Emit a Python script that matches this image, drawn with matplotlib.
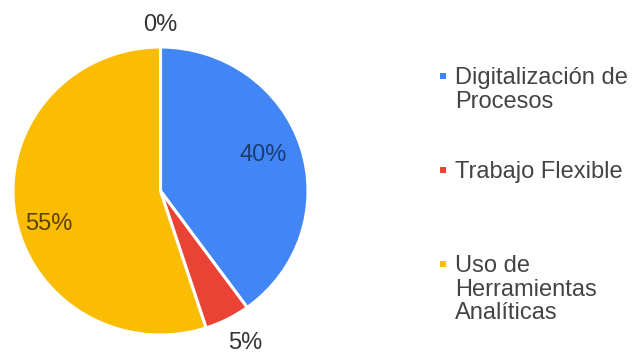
import numpy as np
import matplotlib
matplotlib.use("Agg")
import matplotlib.pyplot as plt
from matplotlib.patches import Rectangle

# Data
categories = ["Digitalización de\nProcesos", "Trabajo Flexible",
              "Uso de\nHerramientas\nAnalíticas", "Otros"]
values = [40, 5, 55, 0]
colors = ["#4285f4", "#ea4335", "#fbbc04", "#34a853"]

W, H = 632, 358
plt.rcParams["font.family"] = ["Liberation Sans", "DejaVu Sans"]
fig = plt.figure(figsize=(W / 100, H / 100), dpi=100)
fig.patch.set_facecolor("white")


def fx(px):
    return px / W


def fy(py):
    return 1 - py / H


# Pie area (pixels): left 13, right 308, top 47, bottom 335
ax = fig.add_axes([fx(13), fy(335), fx(308) - fx(13), (335 - 47) / H])
wedges, _ = ax.pie(values, colors=colors, startangle=90, counterclock=False,
                   radius=1.0,
                   wedgeprops=dict(edgecolor="white", linewidth=2.2))
ax.set_aspect("auto")
ax.set_xlim(-1, 1)
ax.set_ylim(-1, 1)
ax.axis("off")

# Percentage labels
total = sum(values)
label_style = {
    # radius, angular nudge (deg), colour
    0: (0.74, -1.5, "#1d3c73"),
    1: (1.20, -1.5, "#333333"),
    2: (0.79, -8.0, "#5a4300"),
    3: (1.15, 0.0, "#333333"),
}
cum = 0.0
for i, v in enumerate(values):
    frac = v / total
    mid = (cum + frac / 2) * 360.0  # clockwise from top
    cum += frac
    r, nudge, col = label_style[i]
    a = np.deg2rad(mid + nudge)
    ax.text(r * np.sin(a), r * np.cos(a), f"{round(frac * 100)}%",
            ha="center", va="center", fontsize=17, color=col,
            clip_on=False)

# Legend (entries with a non-zero share)
first_baseline = 84
entry_step = 94
line_step = 23.5
k = 0
for cat, v, col in zip(categories, values, colors):
    if v <= 0:
        continue
    base = first_baseline + k * entry_step
    size = 6
    fig.patches.append(Rectangle((fx(440), fy(base - 8 + size / 2)),
                                 size / W, size / H, transform=fig.transFigure,
                                 facecolor=col, edgecolor="none"))
    for j, line in enumerate(cat.split("\n")):
        fig.text(fx(455), fy(base + j * line_step), line, ha="left",
                 va="baseline", fontsize=17, color="#444444")
    k += 1

fig.savefig("out.png", dpi=100, facecolor="white")
